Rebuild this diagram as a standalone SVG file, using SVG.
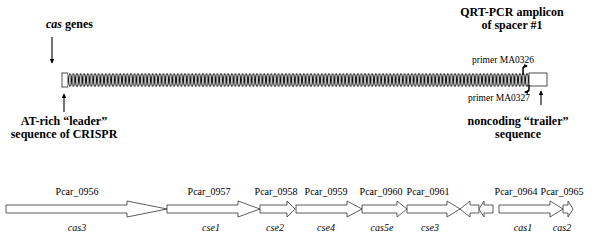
<svg xmlns="http://www.w3.org/2000/svg" width="600" height="243" viewBox="0 0 600 243">
<defs>
<style>
.b{font-family:"Liberation Serif","Times New Roman",serif;font-weight:bold;font-size:12px;fill:#000}
.r{font-family:"Liberation Serif","Times New Roman",serif;font-size:10px;fill:#000}
.i{font-family:"Liberation Serif","Times New Roman",serif;font-style:italic;font-size:10px;fill:#000}
.p{font-family:"Liberation Serif","Times New Roman",serif;font-size:9.5px;fill:#000}
.gene{fill:#fff;stroke:#333;stroke-width:0.8}
.box{fill:#fff;stroke:#222;stroke-width:0.8}
.arr{fill:none;stroke:#000;stroke-width:1.1;marker-end:url(#ah)}
.hook{fill:none;stroke:#000;stroke-width:1.5;marker-end:url(#hh)}
</style>
<marker id="ah" viewBox="0 0 8 8" refX="7" refY="4" markerWidth="4.5" markerHeight="4.5" orient="auto" markerUnits="strokeWidth">
<path d="M0,0 L8,4 L0,8 Z" fill="#000"/>
</marker>
<marker id="hh" viewBox="0 0 8 8" refX="6" refY="4" markerWidth="2.6" markerHeight="2.6" orient="auto" markerUnits="strokeWidth">
<path d="M0,0 L8,4 L0,8 Z" fill="#000"/>
</marker>
<pattern id="rep" patternUnits="userSpaceOnUse" x="68" y="73" width="3.6" height="14">
<rect width="3.6" height="14" fill="#fff"/>
<ellipse cx="1.8" cy="7" rx="1.25" ry="6.3" fill="#fff" stroke="#000" stroke-width="1.05"/>
</pattern>
</defs>

<g id="crispr-array">
<rect class="box" x="62" y="73" width="6" height="14"/>
<rect x="68" y="73" width="461" height="14" fill="url(#rep)"/>
<rect class="box" x="529" y="73" width="18" height="13"/>
</g>

<g id="label-cas-genes">
<text class="b" x="46" y="28"><tspan font-style="italic">cas</tspan> genes</text>
</g>
<g id="label-leader">
<text class="b" x="64" y="125" text-anchor="middle">AT-rich “leader”</text>
<text class="b" x="64" y="138" text-anchor="middle">sequence of CRISPR</text>
</g>
<g id="label-amplicon">
<text class="b" x="512" y="16" text-anchor="middle">QRT-PCR amplicon</text>
<text class="b" x="512" y="29" text-anchor="middle">of spacer #1</text>
</g>
<g id="label-primer-0326">
<text class="p" x="472" y="63">primer MA0326</text>
</g>
<g id="label-primer-0327">
<text class="p" x="468" y="101">primer MA0327</text>
</g>
<g id="label-trailer">
<text class="b" x="518" y="125" text-anchor="middle">noncoding “trailer”</text>
<text class="b" x="518" y="138" text-anchor="middle">sequence</text>
</g>

<g id="connectors">
<line class="arr" x1="52" y1="37" x2="52" y2="63"/>
<line class="arr" x1="64" y1="112" x2="64" y2="94"/>
<line class="arr" x1="541" y1="105" x2="541" y2="91"/>
<path class="hook" d="M523,75 L523,69 Q523,66 526,66 L527,66"/>
<path class="hook" d="M529,85 L529,89 Q529,92 526,92 L525,92"/>
</g>

<g id="gene-cas3">
<polygon class="gene" points="6,205 127,205 127,201 167,209 127,217 127,213 6,213"/>
<text class="r" x="77" y="195" text-anchor="middle">Pcar_0956</text>
<text class="i" x="77" y="231" text-anchor="middle">cas3</text>
</g>
<g id="gene-cse1">
<polygon class="gene" points="167,205 238,205 238,201 260,209 238,217 238,213 167,213"/>
<text class="r" x="209" y="195" text-anchor="middle">Pcar_0957</text>
<text class="i" x="211" y="231" text-anchor="middle">cse1</text>
</g>
<g id="gene-cse2">
<polygon class="gene" points="260,205 287,205 287,201 295,209 287,217 287,213 260,213"/>
<text class="r" x="276" y="195" text-anchor="middle">Pcar_0958</text>
<text class="i" x="275" y="231" text-anchor="middle">cse2</text>
</g>
<g id="gene-cse4">
<polygon class="gene" points="296,205 347,205 347,201 362,209 347,217 347,213 296,213"/>
<text class="r" x="326" y="195" text-anchor="middle">Pcar_0959</text>
<text class="i" x="326" y="231" text-anchor="middle">cse4</text>
</g>
<g id="gene-cas5e">
<polygon class="gene" points="362,205 397,205 397,201 407,209 397,217 397,213 362,213"/>
<text class="r" x="381" y="195" text-anchor="middle">Pcar_0960</text>
<text class="i" x="382" y="231" text-anchor="middle">cas5e</text>
</g>
<g id="gene-cse3">
<polygon class="gene" points="407,205 447,205 447,201 460,209 447,217 447,213 407,213"/>
<text class="r" x="428" y="195" text-anchor="middle">Pcar_0961</text>
<text class="i" x="430" y="231" text-anchor="middle">cse3</text>
</g>
<g id="gene-rev1">
<polygon class="gene" points="479,205 470,205 470,201 460,209 470,217 470,213 479,213"/>
</g>
<g id="gene-rev2">
<polygon class="gene" points="493,205 484,205 484,201 479,209 484,217 484,213 493,213"/>
</g>
<g id="gene-cas1">
<polygon class="gene" points="499,205 550,205 550,201 563,209 550,217 550,213 499,213"/>
<text class="r" x="516" y="195" text-anchor="middle">Pcar_0964</text>
<text class="i" x="523" y="231" text-anchor="middle">cas1</text>
</g>
<g id="gene-cas2">
<polygon class="gene" points="563,205 568,205 568,201 573,209 568,217 568,213 563,213"/>
<text class="r" x="562" y="195" text-anchor="middle">Pcar_0965</text>
<text class="i" x="562" y="231" text-anchor="middle">cas2</text>
</g>
</svg>
